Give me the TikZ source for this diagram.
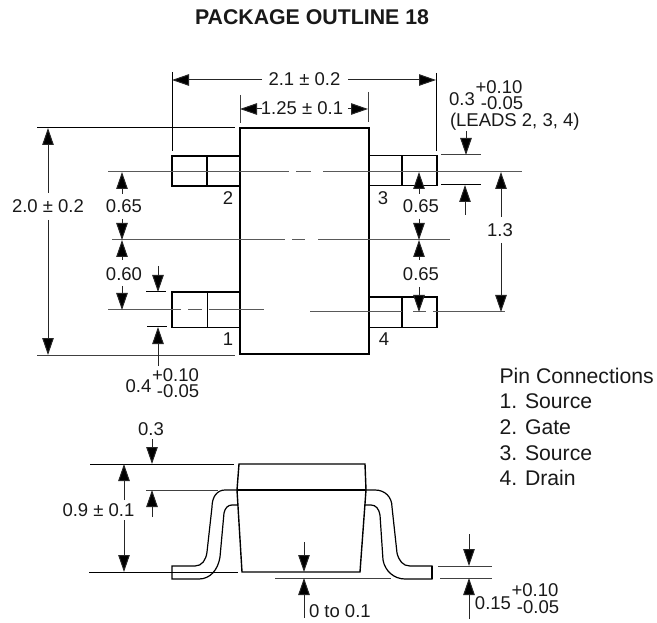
\documentclass[tikz,border=0pt]{standalone}
\usepackage{fontspec}
\setmainfont{Liberation Sans}
\usetikzlibrary{arrows.meta}
\tikzset{
  outline/.style={draw=black,line width=1.4pt,line join=miter},
  leadline/.style={draw=black,line width=1.2pt},
  thinline/.style={draw=black,line width=1pt},
  extline/.style={draw=black!75,line width=1pt},
  centerline/.style={draw=black!65,line width=1pt},
  dimhead/.style={draw=black!85,line width=1pt,-{Triangle[length=17pt,width=11.5pt,fill=black]}},
  lbl/.style={inner sep=0pt,outer sep=0pt,font=\fontsize{18.5}{19}\selectfont,text=black!90},
  lbll/.style={lbl,anchor=west},
  pinlbl/.style={lbll,font=\fontsize{21.2}{22}\selectfont},
}
\begin{document}
\begin{tikzpicture}[x=1pt,y=-1pt]
\useasboundingbox (0,0) rectangle (657,623);
\node[inner sep=0pt,text=black!90,font=\bfseries\fontsize{21.3}{22}\selectfont] (title) at (312,17) {PACKAGE OUTLINE 18};

% top view body and leads
\draw[outline] (240,128) rectangle (369,354);
\draw[outline] (240,156) -- (172,156) -- (172,186) -- (240,186);
\draw[outline] (207,156) -- (207,186);
\draw[outline] (240,292) -- (172,292) -- (172,327.5) -- (240,327.5);
\draw[outline] (207.5,292) -- (207.5,327.5);
\draw[outline] (369,155.5) -- (437,155.5) -- (437,185.5) -- (369,185.5);
\draw[outline] (402,155.5) -- (402,185.5);
\draw[outline] (369,297) -- (437,297) -- (437,327.5) -- (369,327.5);
\draw[outline] (402,297) -- (402,327.5);

% centre lines
\draw[centerline] (108,172) -- (289,172) (296,172) -- (311,172) (323,172) -- (522,172);
\draw[centerline] (112,240) -- (285,240) (292,240) -- (305,240) (318,240) -- (450,240);
\draw[centerline] (108,310) -- (181,310) (188,310) -- (202,310) (209,310) -- (264,310);
\draw[centerline] (310,312) -- (402,312) (413,312) -- (426,312) (433,312) -- (505,312);

% extension lines, top view
\draw[thinline] (172,72) -- (172,151);
\draw[thinline] (436,73) -- (436,151);
\draw[extline] (240,95) -- (240,123);
\draw[extline] (368,92) -- (368,122);
\draw[thinline] (37,128) -- (235,128);
\draw[extline] (37,355) -- (235,355);
\draw[thinline] (146,292) -- (166,292);
\draw[thinline] (147,327) -- (167,327);
\draw[extline] (441,155) -- (481,155);
\draw[thinline] (441,185) -- (481,185);

% dimensions, top view
\draw[dimhead] (262,80) -- (172,80);
\draw[dimhead] (348,80) -- (436,80);
\draw[dimhead] (262,109) -- (240,109);
\draw[dimhead] (348,109) -- (368,109);
\draw[dimhead] (48,193) -- (48,128);
\draw[dimhead] (48,220) -- (48,355);
\draw[dimhead] (122,194) -- (122,172);
\draw[dimhead] (122,219) -- (122,240);
\draw[dimhead] (122,260) -- (122,240);
\draw[dimhead] (122,286) -- (122,310);
\draw[dimhead] (158,266) -- (158,292);
\draw[dimhead] (158,366) -- (158,327);
\draw[dimhead] (419,194) -- (419,172);
\draw[dimhead] (419,219) -- (419,240);
\draw[dimhead] (419,260) -- (419,240);
\draw[dimhead] (419,287) -- (419,312);
\draw[dimhead] (466,131) -- (466,155);
\draw[dimhead] (465,215) -- (465,185);
\draw[dimhead] (501,217) -- (501,172);
\draw[dimhead] (501,243) -- (501,312);

% labels, top view
\node[lbl] (d21) at (304.5,79) {2.1 ± 0.2};
\node[lbl] (d125) at (302,108) {1.25 ± 0.1};
\node[lbl] (d20) at (48,206) {2.0 ± 0.2};
\node[lbl] (a1) at (124,206) {0.65};
\node[lbl] (a2) at (124,274) {0.60};
\node[lbl] (a3) at (421,206) {0.65};
\node[lbl] (a4) at (421,274) {0.65};
\node[lbl] (a5) at (500,230) {1.3};
\node[lbl] (p2) at (228,198) {2};
\node[lbl] (p1) at (228,339) {1};
\node[lbl] (p3) at (383,198) {3};
\node[lbl] (p4) at (384,339) {4};
\node[lbl] (t1) at (462,99) {0.3};
\node[lbl] (t2) at (499,87) {+0.10};
\node[lbl] (t3) at (502,103) {-0.05};
\node[lbll] (t4) at (450,122) {(LEADS 2, 3, 4)};
\node[lbl] (b1) at (138.5,386) {0.4};
\node[lbl] (b2) at (175.5,375) {+0.10};
\node[lbl] (b3) at (178,391) {-0.05};

% pin list
\node[pinlbl] (pc) at (499.5,376) {Pin Connections};
\node[pinlbl] (pa) at (499.5,401) {1. Source};
\node[pinlbl] (pb) at (499.5,427) {2. Gate};
\node[pinlbl] (pd) at (499.5,453) {3. Source};
\node[pinlbl] (pe) at (499.5,478) {4. Drain};

% side view
\draw[outline] (239,464) -- (365,464) -- (366,490) -- (360,572) -- (242,572) -- (237,490) -- cycle;
\draw[outline] (237,490) -- (366,490);
\draw[leadline] (237,490) -- (225,490) .. controls (217,490) and (212,497) .. (212,507)
  -- (207,552) .. controls (206,560) and (202,566) .. (195,566)
  -- (172,566) -- (172,579) -- (199,579) .. controls (210,579) and (218,570) .. (220,557)
  -- (224,513) .. controls (225,508) and (228,505) .. (232,505) -- (238,505);
\draw[leadline] (366,490) -- (375,490) .. controls (385,490) and (392,497) .. (392,507)
  -- (397,553) .. controls (399,561) and (403,566) .. (410,566)
  -- (432,566) -- (432,579) -- (405,579) .. controls (394,579) and (385,571) .. (383,560)
  -- (380,515) .. controls (379,509) and (376,505) .. (371,505) -- (365,505);
\draw[outline] (432,566) -- (432,579);

% extension lines, side view
\draw[thinline] (90,464) -- (234,464);
\draw[extline] (146,490) -- (218,490);
\draw[thinline] (89,572) -- (238,572);
\draw[extline] (275,578) -- (391,578);
\draw[extline] (438,566) -- (492,566);
\draw[extline] (440,578) -- (492,578);

% dimensions, side view
\draw[dimhead] (124,500) -- (124,464);
\draw[dimhead] (124,520) -- (124,572);
\draw[dimhead] (152,439) -- (152,464);
\draw[dimhead] (152,517) -- (152,490);
\draw[dimhead] (304,542) -- (304,572);
\draw[dimhead] (304,618) -- (304,578);
\draw[dimhead] (469,534) -- (469,566);
\draw[dimhead] (469,619) -- (469,578);

% labels, side view
\node[lbl] (s1) at (151,429) {0.3};
\node[lbl] (s2) at (98.5,510) {0.9 ± 0.1};
\node[lbll] (s3) at (309,611) {0 to 0.1};
\node[lbl] (s4) at (493,603) {0.15};
\node[lbl] (s5) at (535,590) {+0.10};
\node[lbl] (s6) at (538,607) {-0.05};
\end{tikzpicture}
\end{document}
